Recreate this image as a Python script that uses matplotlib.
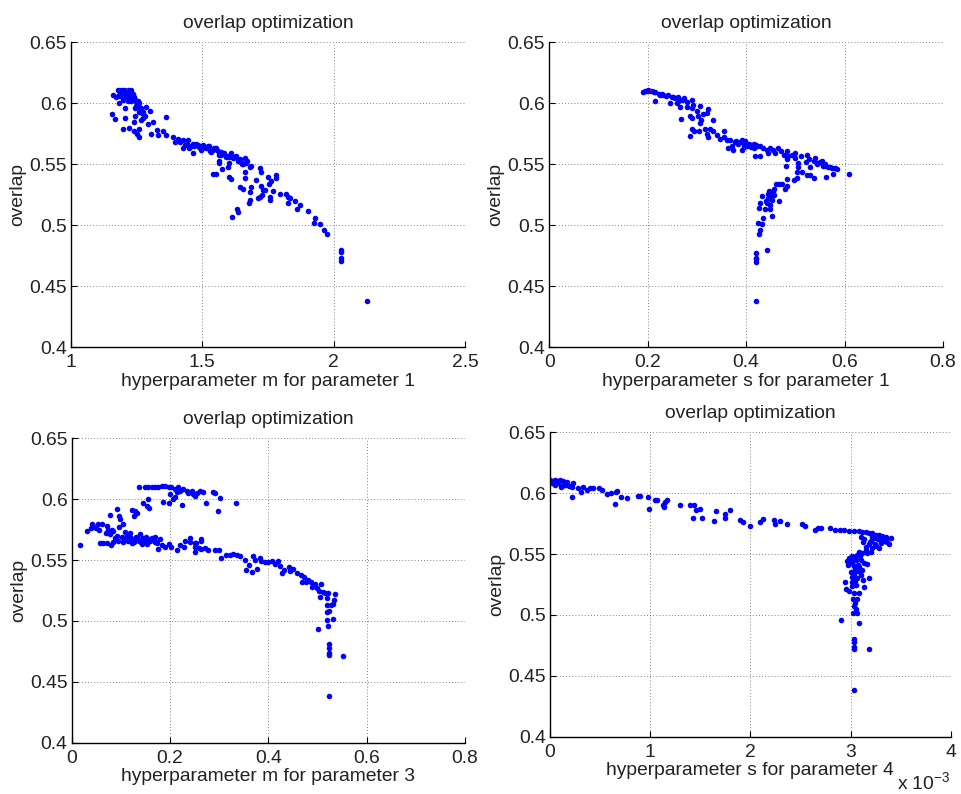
import matplotlib
matplotlib.use("Agg")
import matplotlib.pyplot as plt

plt.rcParams["font.family"] = ["Liberation Sans", "DejaVu Sans"]
plt.rcParams["mathtext.fontset"] = "custom"
plt.rcParams["mathtext.rm"] = "Liberation Sans"
plt.rcParams["mathtext.it"] = "Liberation Sans:italic"

FS = 13.9
BLUE = "#0000ff"

# ---- panel 1: hyperparameter m for parameter 1 ----
m1_x = [1.159, 1.155, 1.168, 1.184, 1.197, 1.206, 1.206, 1.222, 1.238, 1.238,
        1.250, 1.257, 1.257, 1.245, 1.267, 1.286, 1.292, 1.302, 1.305, 1.311,
        1.327, 1.330, 1.360, 1.352, 1.360, 1.388, 1.407, 1.426, 1.426, 1.445,
        1.451, 1.464, 1.464, 1.477, 1.489, 1.502, 1.515, 1.527, 1.534, 1.546,
        1.559, 1.572, 1.584, 1.597, 1.610, 1.616, 1.629, 1.635, 1.648, 1.661,
        1.667, 1.680, 1.686, 1.597, 1.603, 1.562, 1.562, 1.575, 1.603, 1.610,
        1.540, 1.553, 1.642, 1.654, 1.661, 1.661, 1.612, 1.632, 1.635, 1.677,
        1.680, 1.682, 1.686, 1.705, 1.718, 1.724, 1.724, 1.730, 1.711, 1.720,
        1.728, 1.737, 1.750, 1.753, 1.758, 1.758, 1.763, 1.779, 1.781, 1.768,
        1.797, 1.817, 1.826, 1.832, 1.826, 1.854, 1.860, 1.873, 1.903, 1.929,
        1.927, 1.947, 1.962, 1.976, 2.027, 2.027, 2.027, 2.027, 2.128,
        1.178, 1.191, 1.203, 1.216, 1.229, 1.235, 1.184, 1.197, 1.210, 1.222,
        1.229, 1.241, 1.254, 1.260, 1.248, 1.267, 1.273, 1.280, 1.260, 1.197,
        1.216, 1.172, 1.395, 1.415, 1.435, 1.455, 1.470, 1.485, 1.495, 1.508,
        1.520, 1.540, 1.552, 1.565, 1.590, 1.620, 1.645, 1.655, 1.670, 1.650,
        1.186, 1.193, 1.200, 1.208, 1.214, 1.220, 1.226, 1.232, 1.238, 1.244,
        1.188, 1.204, 1.218, 1.232, 1.246, 1.252, 1.264, 1.270, 1.276, 1.242,
        1.410, 1.440, 1.460, 1.480, 1.500, 1.530, 1.570, 1.600, 1.625, 1.640]
m1_y = [0.607, 0.591, 0.587, 0.600, 0.579, 0.588, 0.596, 0.580, 0.585, 0.577,
        0.575, 0.572, 0.579, 0.590, 0.586, 0.597, 0.583, 0.594, 0.575, 0.585,
        0.578, 0.574, 0.589, 0.577, 0.574, 0.572, 0.571, 0.570, 0.563, 0.570,
        0.563, 0.567, 0.559, 0.567, 0.564, 0.566, 0.563, 0.565, 0.560, 0.563,
        0.561, 0.560, 0.559, 0.557, 0.559, 0.555, 0.557, 0.553, 0.552, 0.555,
        0.551, 0.548, 0.549, 0.548, 0.551, 0.553, 0.551, 0.546, 0.540, 0.538,
        0.542, 0.542, 0.531, 0.530, 0.544, 0.539, 0.507, 0.513, 0.511, 0.518,
        0.521, 0.527, 0.531, 0.537, 0.547, 0.544, 0.532, 0.529, 0.522, 0.523,
        0.525, 0.529, 0.540, 0.534, 0.523, 0.521, 0.536, 0.541, 0.539, 0.528,
        0.526, 0.526, 0.523, 0.522, 0.518, 0.520, 0.513, 0.517, 0.512, 0.506,
        0.502, 0.501, 0.496, 0.493, 0.480, 0.478, 0.473, 0.471, 0.438,
        0.611, 0.611, 0.611, 0.611, 0.611, 0.608, 0.607, 0.608, 0.605, 0.607,
        0.602, 0.604, 0.602, 0.600, 0.598, 0.596, 0.593, 0.590, 0.593, 0.603,
        0.602, 0.605, 0.568, 0.568, 0.566, 0.565, 0.565, 0.566, 0.562, 0.564,
        0.565, 0.562, 0.563, 0.558, 0.556, 0.556, 0.554, 0.550, 0.553, 0.550,
        0.609, 0.610, 0.609, 0.610, 0.609, 0.610, 0.609, 0.606, 0.605, 0.603,
        0.606, 0.607, 0.606, 0.604, 0.601, 0.598, 0.595, 0.592, 0.588, 0.596,
        0.569, 0.567, 0.565, 0.566, 0.563, 0.561, 0.558, 0.556, 0.556, 0.553]

# ---- panel 2: hyperparameter s for parameter 1 ----
s1_x = [0.190, 0.195, 0.201, 0.208, 0.215, 0.222, 0.228, 0.232, 0.242, 0.249,
        0.256, 0.262, 0.269, 0.273, 0.279, 0.289, 0.215, 0.245, 0.259, 0.266,
        0.279, 0.289, 0.293, 0.267, 0.286, 0.289, 0.301, 0.306, 0.303, 0.313,
        0.309, 0.320, 0.323, 0.332, 0.306, 0.289, 0.294, 0.286, 0.305, 0.317,
        0.320, 0.323, 0.327, 0.333, 0.340, 0.347, 0.354, 0.354, 0.361, 0.367,
        0.364, 0.371, 0.374, 0.378, 0.384, 0.391, 0.395, 0.391, 0.401, 0.408,
        0.415, 0.415, 0.422, 0.418, 0.428, 0.428, 0.435, 0.442, 0.445, 0.449,
        0.455, 0.459, 0.464, 0.471, 0.476, 0.483, 0.486, 0.483, 0.481, 0.493,
        0.500, 0.500, 0.506, 0.506, 0.511, 0.523, 0.522, 0.527, 0.530, 0.537,
        0.540, 0.544, 0.551, 0.554, 0.557, 0.561, 0.567, 0.574, 0.581, 0.584,
        0.576, 0.563, 0.609, 0.537, 0.530, 0.523, 0.513, 0.504, 0.503, 0.498,
        0.483, 0.483, 0.479, 0.472, 0.466, 0.461, 0.466, 0.456, 0.452, 0.449,
        0.456, 0.445, 0.452, 0.442, 0.449, 0.432, 0.429, 0.427, 0.439, 0.449,
        0.452, 0.435, 0.425, 0.432, 0.429, 0.427, 0.442, 0.420, 0.420, 0.420,
        0.420, 0.420, 0.198, 0.205, 0.212, 0.225, 0.238, 0.252, 0.265, 0.447,
        0.444, 0.450, 0.440, 0.455, 0.380, 0.388, 0.398, 0.405, 0.412, 0.420,
        0.396, 0.402, 0.410, 0.545, 0.560, 0.570]
s1_y = [0.609, 0.610, 0.611, 0.610, 0.609, 0.608, 0.608, 0.607, 0.607, 0.605,
        0.604, 0.605, 0.603, 0.604, 0.601, 0.603, 0.602, 0.600, 0.600, 0.597,
        0.597, 0.596, 0.599, 0.587, 0.590, 0.588, 0.594, 0.598, 0.590, 0.591,
        0.586, 0.592, 0.595, 0.586, 0.584, 0.579, 0.577, 0.573, 0.577, 0.579,
        0.575, 0.572, 0.579, 0.577, 0.574, 0.571, 0.577, 0.572, 0.570, 0.570,
        0.563, 0.565, 0.562, 0.568, 0.567, 0.570, 0.566, 0.562, 0.567, 0.566,
        0.567, 0.563, 0.565, 0.557, 0.557, 0.565, 0.563, 0.562, 0.559, 0.563,
        0.562, 0.559, 0.563, 0.561, 0.558, 0.561, 0.557, 0.554, 0.549, 0.558,
        0.559, 0.555, 0.551, 0.548, 0.557, 0.558, 0.552, 0.554, 0.548, 0.553,
        0.555, 0.550, 0.552, 0.553, 0.549, 0.549, 0.548, 0.547, 0.547, 0.546,
        0.542, 0.540, 0.542, 0.539, 0.541, 0.541, 0.544, 0.544, 0.539, 0.537,
        0.538, 0.532, 0.530, 0.534, 0.534, 0.534, 0.520, 0.530, 0.527, 0.524,
        0.525, 0.522, 0.521, 0.518, 0.517, 0.524, 0.518, 0.514, 0.513, 0.513,
        0.508, 0.506, 0.502, 0.501, 0.496, 0.493, 0.480, 0.477, 0.473, 0.472,
        0.470, 0.438, 0.610, 0.610, 0.609, 0.607, 0.606, 0.605, 0.603, 0.528,
        0.526, 0.523, 0.520, 0.527, 0.569, 0.568, 0.569, 0.567, 0.566, 0.566,
        0.564, 0.565, 0.564, 0.551, 0.550, 0.548]

# ---- panel 3: hyperparameter m for parameter 3 ----
m3_x = [0.136, 0.149, 0.156, 0.163, 0.169, 0.176, 0.183, 0.190, 0.197, 0.203,
        0.210, 0.217, 0.214, 0.220, 0.227, 0.234, 0.237, 0.244, 0.247, 0.254,
        0.251, 0.261, 0.268, 0.288, 0.292, 0.302, 0.334, 0.298, 0.273, 0.225,
        0.210, 0.200, 0.197, 0.186, 0.207, 0.156, 0.154, 0.158, 0.145, 0.122,
        0.129, 0.127, 0.132, 0.093, 0.097, 0.098, 0.077, 0.105, 0.097, 0.041,
        0.044, 0.054, 0.061, 0.050, 0.056, 0.039, 0.031, 0.017, 0.071, 0.074,
        0.081, 0.085, 0.070, 0.078, 0.058, 0.064, 0.071, 0.079, 0.085, 0.088,
        0.092, 0.095, 0.102, 0.105, 0.108, 0.112, 0.115, 0.119, 0.122, 0.125,
        0.131, 0.136, 0.139, 0.142, 0.146, 0.149, 0.154, 0.158, 0.163, 0.174,
        0.176, 0.183, 0.190, 0.197, 0.201, 0.214, 0.220, 0.228, 0.251, 0.251,
        0.258, 0.264, 0.271, 0.278, 0.292, 0.300, 0.303, 0.314, 0.322, 0.329,
        0.336, 0.342, 0.353, 0.355, 0.361, 0.366, 0.368, 0.373, 0.376, 0.382,
        0.386, 0.393, 0.400, 0.407, 0.414, 0.420, 0.424, 0.427, 0.431, 0.441,
        0.444, 0.451, 0.459, 0.466, 0.468, 0.473, 0.476, 0.481, 0.486, 0.488,
        0.495, 0.498, 0.503, 0.508, 0.505, 0.512, 0.515, 0.519, 0.522, 0.536,
        0.534, 0.519, 0.527, 0.532, 0.519, 0.524, 0.520, 0.532, 0.500, 0.521,
        0.524, 0.524, 0.524, 0.524, 0.551, 0.524, 0.110, 0.120, 0.130, 0.140,
        0.150, 0.160, 0.170, 0.180, 0.170, 0.240, 0.250, 0.262, 0.108, 0.118,
        0.126, 0.134, 0.144, 0.152, 0.162, 0.172, 0.230, 0.240, 0.252, 0.262]
m3_y = [0.610, 0.610, 0.610, 0.610, 0.610, 0.610, 0.611, 0.611, 0.610, 0.610,
        0.608, 0.610, 0.606, 0.607, 0.608, 0.607, 0.605, 0.607, 0.604, 0.605,
        0.603, 0.607, 0.606, 0.606, 0.605, 0.601, 0.597, 0.590, 0.597, 0.595,
        0.602, 0.604, 0.597, 0.598, 0.600, 0.600, 0.594, 0.593, 0.597, 0.591,
        0.590, 0.586, 0.589, 0.592, 0.586, 0.584, 0.587, 0.580, 0.577, 0.580,
        0.578, 0.580, 0.580, 0.576, 0.575, 0.576, 0.574, 0.562, 0.578, 0.575,
        0.575, 0.574, 0.572, 0.571, 0.564, 0.564, 0.564, 0.562, 0.565, 0.568,
        0.570, 0.566, 0.569, 0.565, 0.568, 0.571, 0.566, 0.569, 0.564, 0.567,
        0.569, 0.566, 0.571, 0.563, 0.568, 0.565, 0.563, 0.567, 0.568, 0.564,
        0.559, 0.562, 0.561, 0.563, 0.561, 0.558, 0.562, 0.561, 0.561, 0.557,
        0.560, 0.559, 0.560, 0.558, 0.558, 0.558, 0.552, 0.554, 0.554, 0.555,
        0.554, 0.553, 0.550, 0.542, 0.546, 0.540, 0.553, 0.550, 0.543, 0.552,
        0.549, 0.548, 0.548, 0.549, 0.547, 0.549, 0.545, 0.539, 0.542, 0.544,
        0.541, 0.543, 0.539, 0.538, 0.532, 0.536, 0.532, 0.534, 0.532, 0.528,
        0.530, 0.527, 0.525, 0.530, 0.520, 0.524, 0.523, 0.519, 0.523, 0.522,
        0.517, 0.513, 0.513, 0.514, 0.507, 0.508, 0.501, 0.502, 0.493, 0.496,
        0.481, 0.478, 0.474, 0.472, 0.471, 0.438, 0.567, 0.566, 0.568, 0.565,
        0.567, 0.566, 0.565, 0.567, 0.569, 0.565, 0.564, 0.566, 0.573, 0.572,
        0.565, 0.567, 0.566, 0.569, 0.567, 0.565, 0.566, 0.568, 0.564, 0.567]

# ---- panel 4: hyperparameter s for parameter 4 (units of 1e-3) ----
s4_x = [0.000, 0.017, 0.033, 0.067, 0.083, 0.100, 0.107, 0.133, 0.150, 0.167,
        0.193, 0.217, 0.227, 0.217, 0.283, 0.307, 0.333, 0.367, 0.400, 0.433,
        0.493, 0.517, 0.567, 0.607, 0.650, 0.660, 0.673, 0.710, 0.773, 0.883,
        0.900, 0.983, 0.993, 1.050, 1.073, 1.127, 1.140, 1.150, 1.167, 1.293,
        1.393, 1.433, 1.427, 1.460, 1.500, 1.517, 1.640, 1.660, 1.743, 1.750,
        1.793, 1.900, 1.927, 2.000, 2.100, 2.127, 2.233, 2.250, 2.300, 2.367,
        2.517, 2.550, 2.650, 2.673, 2.707, 2.793, 2.850, 2.893, 2.933, 2.983,
        3.033, 3.083, 3.117, 3.150, 3.183, 3.217, 3.250, 3.283, 3.317, 3.350,
        3.400, 3.367, 3.383, 3.333, 3.300, 3.283, 3.250, 3.217, 3.183, 3.150,
        3.133, 3.100, 3.167, 3.200, 3.150, 3.117, 3.093, 3.067, 3.050, 3.017,
        2.983, 2.967, 2.973, 3.017, 3.050, 3.100, 3.133, 3.167, 3.033, 3.083,
        3.050, 3.100, 3.033, 3.067, 3.183, 3.127, 3.017, 3.050, 2.940, 3.017,
        3.133, 2.950, 2.983, 3.033, 3.083, 3.027, 3.060, 3.033, 3.050, 3.027,
        3.067, 2.907, 3.083, 3.033, 3.033, 3.033, 3.033, 3.183, 3.033,
        0.010, 0.045, 0.120, 0.050, 3.230, 3.270, 3.310, 3.340, 3.200, 3.120,
        3.000, 3.040, 3.070, 3.110, 3.000, 3.040, 3.210, 3.260, 3.300, 3.350,
        3.240, 3.190, 3.080, 3.020, 2.990, 3.060, 3.010, 3.090, 3.040]
s4_y = [0.611, 0.608, 0.610, 0.610, 0.608, 0.611, 0.605, 0.610, 0.607, 0.609,
        0.606, 0.605, 0.608, 0.597, 0.604, 0.601, 0.605, 0.603, 0.604, 0.604,
        0.604, 0.603, 0.599, 0.600, 0.591, 0.601, 0.602, 0.597, 0.596, 0.598,
        0.598, 0.597, 0.587, 0.594, 0.594, 0.590, 0.589, 0.593, 0.594, 0.590,
        0.590, 0.590, 0.580, 0.586, 0.587, 0.580, 0.577, 0.585, 0.583, 0.580,
        0.586, 0.578, 0.576, 0.573, 0.576, 0.579, 0.578, 0.575, 0.577, 0.575,
        0.575, 0.573, 0.570, 0.571, 0.571, 0.571, 0.570, 0.570, 0.570, 0.569,
        0.569, 0.569, 0.568, 0.568, 0.567, 0.567, 0.566, 0.566, 0.565, 0.564,
        0.563, 0.560, 0.558, 0.561, 0.559, 0.555, 0.557, 0.555, 0.558, 0.556,
        0.562, 0.564, 0.551, 0.552, 0.553, 0.551, 0.548, 0.549, 0.548, 0.548,
        0.547, 0.544, 0.541, 0.543, 0.545, 0.545, 0.543, 0.542, 0.540, 0.539,
        0.536, 0.533, 0.533, 0.530, 0.530, 0.529, 0.527, 0.525, 0.527, 0.524,
        0.523, 0.521, 0.520, 0.518, 0.518, 0.513, 0.513, 0.507, 0.505, 0.502,
        0.502, 0.496, 0.493, 0.480, 0.478, 0.474, 0.472, 0.472, 0.438,
        0.609, 0.607, 0.606, 0.611, 0.563, 0.562, 0.562, 0.561, 0.561, 0.560,
        0.546, 0.538, 0.541, 0.537, 0.535, 0.528, 0.564, 0.563, 0.560, 0.562,
        0.558, 0.560, 0.552, 0.545, 0.543, 0.537, 0.531, 0.535, 0.510]

# best point of each run (tiny red dot on top of the cloud)
best_x = [1.213, 0.205, 0.190, 0.003]
best_y = [0.612, 0.611, 0.611, 0.611]

y_ticks = [0.4, 0.45, 0.5, 0.55, 0.6, 0.65]
y_labels = ["0.4", "0.45", "0.5", "0.55", "0.6", "0.65"]

panels = [
    # x, y, xticks, xticklabels, xlabel, rect (px: left, top, right, bottom)
    (m1_x, m1_y, [1, 1.5, 2, 2.5], ["1", "1.5", "2", "2.5"],
     "hyperparameter m for parameter 1", (71, 42.3, 465, 347.3)),
    (s1_x, s1_y, [0, 0.2, 0.4, 0.6, 0.8], ["0", "0.2", "0.4", "0.6", "0.8"],
     "hyperparameter s for parameter 1", (549.3, 42.3, 943, 347.3)),
    (m3_x, m3_y, [0, 0.2, 0.4, 0.6, 0.8], ["0", "0.2", "0.4", "0.6", "0.8"],
     "hyperparameter m for parameter 3", (71.7, 438.3, 465, 742.7)),
    (s4_x, s4_y, [0, 1, 2, 3, 4], ["0", "1", "2", "3", "4"],
     "hyperparameter s for parameter 4", (550, 432.3, 950.7, 736.7)),
]

W, H = 961, 794
fig = plt.figure(figsize=(W / 100, H / 100), dpi=100)
fig.patch.set_facecolor("white")

for i, (xs, ys, xt, xtl, xlab, (l, t, r, b)) in enumerate(panels):
    ax = fig.add_axes([l / W, 1 - b / H, (r - l) / W, (b - t) / H])
    ax.plot(xs, ys, "o", color=BLUE, markersize=4.0, markeredgewidth=0)
    ax.plot(best_x[i], best_y[i], "o", color="red", markersize=1.0,
            markeredgewidth=0)
    ax.set_xlim(xt[0], xt[-1])
    ax.set_ylim(0.4, 0.65)
    ax.set_xticks(xt)
    ax.set_xticklabels(xtl)
    ax.set_yticks(y_ticks)
    ax.set_yticklabels(y_labels)
    ax.grid(True, linestyle=(0, (1, 2.2)), color="0.5", linewidth=0.7)
    ax.set_axisbelow(True)
    for side in ("top", "right"):
        ax.spines[side].set_visible(False)
    for side in ("left", "bottom"):
        ax.spines[side].set_linewidth(1.0)
        ax.spines[side].set_color("black")
    ax.tick_params(direction="in", length=4, width=0.8, labelsize=FS,
                   colors="black", labelcolor="#222222", pad=3)
    ax.tick_params(axis="x", pad=5)
    ax.set_title("overlap optimization", fontsize=FS, pad=10, color="#222222")
    ax.set_xlabel(xlab, fontsize=FS, labelpad=1, color="#222222")
    ax.set_ylabel("overlap", fontsize=FS, labelpad=2, color="#222222")
    if i == 3:
        ax.text(1.0, -0.15, r"x 10$^{-3}$", transform=ax.transAxes,
                ha="right", va="center", fontsize=FS, color="#222222")

fig.savefig("out.png", dpi=100, facecolor="white")
